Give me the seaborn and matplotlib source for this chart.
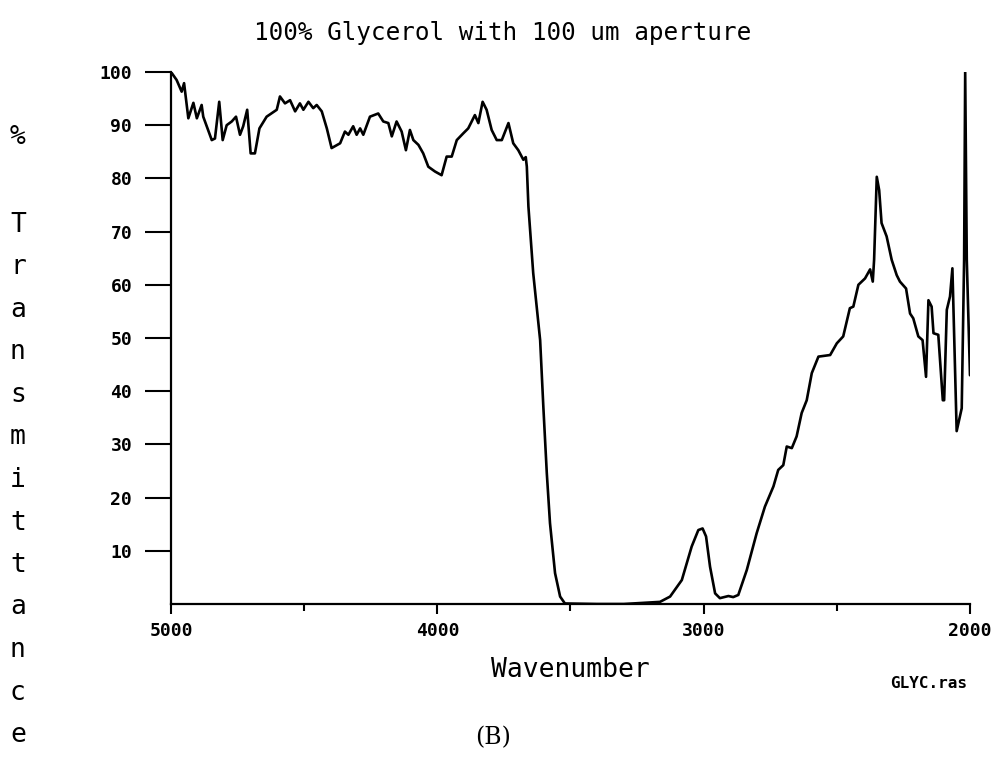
import matplotlib
matplotlib.use("Agg")
import matplotlib.pyplot as plt
import seaborn as sns
import pandas as pd

# spectrum (wavenumber in cm-1, % transmittance)
wavenumber = [
    5000, 4979, 4960, 4951, 4935, 4916, 4903, 4885, 4879, 4847,
    4835, 4819, 4806, 4791, 4772, 4756, 4741, 4729, 4714, 4701,
    4685, 4668, 4641, 4603, 4591, 4572, 4553, 4534, 4516, 4503,
    4484, 4466, 4453, 4434, 4415, 4397, 4365, 4347, 4334, 4316,
    4303, 4290, 4278, 4253, 4222, 4203, 4184, 4171, 4153, 4134,
    4118, 4103, 4090, 4071, 4053, 4034, 4009, 3984, 3965, 3946,
    3927, 3902, 3884, 3859, 3846, 3830, 3815, 3796, 3777, 3758,
    3733, 3715, 3696, 3677, 3668, 3664, 3658, 3640, 3614, 3602,
    3589, 3577, 3558, 3539, 3521, 3400, 3300, 3164, 3126, 3082,
    3045, 3020, 3004, 2991, 2976, 2957, 2939, 2907, 2889, 2870,
    2838, 2801, 2770, 2738, 2720, 2701, 2688, 2669, 2651, 2632,
    2613, 2594, 2569, 2525, 2500, 2476, 2451, 2438, 2419, 2394,
    2375, 2365, 2360, 2350, 2341, 2332, 2313, 2294, 2275, 2263,
    2240, 2225, 2213, 2194, 2178, 2165, 2156, 2144, 2137, 2119,
    2102, 2097, 2087, 2075, 2066, 2050, 2031, 2022, 2018, 2012,
    2000,
]
transmittance = [
    100.0, 98.5, 96.3, 97.9, 91.3, 94.2, 91.3, 93.8, 91.6, 87.2,
    87.5, 94.4, 87.2, 90.0, 90.7, 91.6, 88.2, 89.8, 92.9, 84.7,
    84.7, 89.4, 91.6, 92.9, 95.4, 94.1, 94.7, 92.6, 94.1, 92.9,
    94.4, 93.2, 93.8, 92.6, 89.4, 85.7, 86.6, 88.8, 88.2, 89.8,
    88.2, 89.4, 88.2, 91.6, 92.2, 90.7, 90.4, 87.9, 90.7, 88.8,
    85.3, 89.1, 87.2, 86.3, 84.7, 82.2, 81.3, 80.6, 84.1, 84.1,
    87.2, 88.5, 89.4, 91.9, 90.4, 94.4, 92.9, 89.1, 87.2, 87.2,
    90.4, 86.6, 85.3, 83.5, 84.0, 82.2, 74.7, 62.2, 49.6, 37.1,
    24.6, 15.2, 5.8, 1.4, 0.1, 0.0, 0.0, 0.4, 1.4, 4.5,
    10.8, 13.9, 14.2, 12.7, 7.0, 2.0, 1.1, 1.5, 1.3, 1.7,
    6.4, 13.3, 18.3, 22.1, 25.2, 26.1, 29.6, 29.3, 31.5, 35.9,
    38.3, 43.4, 46.5, 46.8, 49.0, 50.3, 55.6, 55.9, 60.0, 61.2,
    62.9, 60.6, 64.7, 80.3, 77.8, 71.6, 69.1, 64.7, 61.8, 60.6,
    59.3, 54.6, 53.7, 50.3, 49.6, 42.7, 57.1, 55.9, 50.9, 50.6,
    38.3, 38.3, 55.3, 57.8, 63.1, 32.5, 36.8, 64.7, 100.0, 64.7,
    43.0,
]
y_ticks = [10, 20, 30, 40, 50, 60, 70, 80, 90, 100]
x_major = [5000, 4000, 3000, 2000]
x_minor = [4500, 3500, 2500]

df = pd.DataFrame({"Wavenumber": wavenumber, "T": transmittance})

sns.set_style("ticks")
plt.rcParams["font.family"] = ["DejaVu Sans Mono"]
plt.rcParams["text.color"] = "black"
plt.rcParams["axes.labelcolor"] = "black"
plt.rcParams["xtick.color"] = "black"
plt.rcParams["ytick.color"] = "black"

fig = plt.figure(figsize=(9.92, 7.61), dpi=100)
ax = fig.add_axes([0.1724, 0.2063, 0.8054, 0.6991])

sns.lineplot(data=df, x="Wavenumber", y="T", ax=ax, color="black",
             linewidth=1.9, sort=False, estimator=None)

ax.set_xlim(5000, 2000)
ax.set_ylim(0, 100)
sns.despine(ax=ax)
for s in ("left", "bottom"):
    ax.spines[s].set_linewidth(1.6)
    ax.spines[s].set_color("black")

ax.set_yticks(y_ticks)
ax.set_yticklabels([str(v) for v in y_ticks], fontsize=13, fontweight="bold")
ax.tick_params(axis="y", direction="out", length=19, width=1.5, pad=9,
               colors="black")
ax.set_xticks(x_major)
ax.set_xticklabels([str(v) for v in x_major], fontsize=13, fontweight="bold")
ax.set_xticks(x_minor, minor=True)
ax.tick_params(axis="x", which="major", direction="out", length=7, width=1.5,
               pad=6, colors="black")
ax.tick_params(axis="x", which="minor", direction="out", length=5, width=1.5,
               colors="black")

ax.set_xlabel("Wavenumber", fontsize=19, labelpad=12, color="black")
ax.set_ylabel("")
fig.text(0.507, 0.957, "100% Glycerol with 100 um aperture",
         ha="center", va="center", fontsize=17.5, color="black")

# vertical stacked y label
letters = list("Transmittance")
fig.text(0.018, 1 - 137 / 761, "%", ha="center", va="center", fontsize=19,
         color="black")
top_px, bot_px = 225, 735
step = (bot_px - top_px) / (len(letters) - 1)
for i, ch in enumerate(letters):
    fig.text(0.018, 1 - (top_px + i * step) / 761, ch, ha="center",
             va="center", fontsize=19, color="black")

fig.text(0.975, 1 - 683 / 761, "GLYC.ras", ha="right", va="center",
         fontsize=11.5, fontweight="bold", color="black")
fig.text(0.497, 1 - 738 / 761, "(B)", ha="center", va="center",
         fontsize=17, family="DejaVu Serif", color="black")

fig.savefig("out.png", dpi=100, facecolor="white")
